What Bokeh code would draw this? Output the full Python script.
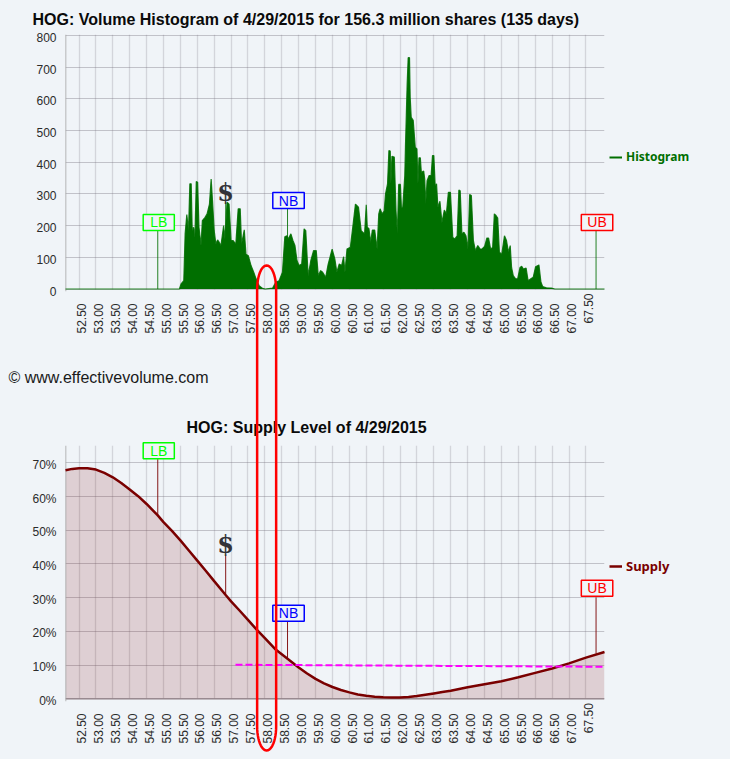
import math
from bokeh.plotting import figure
from bokeh.layouts import column
from bokeh.embed import file_html
from bokeh.resources import INLINE
from bokeh.models import (Range1d, LinearAxis, FixedTicker, Grid, Label, Legend, LegendItem,
                          PrintfTickFormatter, PolyAnnotation, Span, Title)

symbol = "HOG"
price_ticks = [52.5 + 0.5 * i for i in range(31)]
volume_ticks = [0, 100, 200, 300, 400, 500, 600, 700, 800]
supply_ticks = [0, 10, 20, 30, 40, 50, 60, 70]

hist_price = [52.10, 55.47, 55.52, 55.60, 55.64, 55.69, 55.74, 55.78, 55.82, 55.85, 55.89, 55.93, 55.97, 56.01, 56.05,
              56.11, 56.15, 56.23, 56.29, 56.36, 56.41, 56.45, 56.50, 56.55, 56.60, 56.65, 56.70, 56.78, 56.82, 56.88,
              56.94, 57.00, 57.06, 57.14, 57.21, 57.27, 57.31, 57.39, 57.44, 57.51, 57.59, 57.67, 57.74, 57.83, 57.93,
              58.01, 58.23, 58.32, 58.42, 58.52, 58.59, 58.65, 58.69, 58.77, 58.83, 58.89, 58.95, 59.01, 59.09, 59.16,
              59.21, 59.28, 59.36, 59.44, 59.52, 59.58, 59.65, 59.71, 59.80, 59.87, 59.99, 60.07, 60.13, 60.20, 60.27,
              60.33, 60.37, 60.43, 60.53, 60.60, 60.68, 60.77, 60.85, 60.95, 61.00, 61.03, 61.08, 61.13, 61.18, 61.25,
              61.32, 61.37, 61.41, 61.47, 61.53, 61.57, 61.63, 61.67, 61.71, 61.73, 61.76, 61.83, 61.88, 61.92, 61.96,
              62.01, 62.04, 62.08, 62.14, 62.16, 62.21, 62.24, 62.28, 62.30, 62.33, 62.39, 62.45, 62.50, 62.53, 62.56,
              62.60, 62.63, 62.70, 62.73, 62.76, 62.80, 62.86, 62.92, 62.96, 63.00, 63.04, 63.08, 63.12, 63.18, 63.24,
              63.31, 63.37, 63.43, 63.49, 63.56, 63.62, 63.69, 63.74, 63.78, 63.83, 63.89, 63.95, 64.01, 64.06, 64.11,
              64.17, 64.23, 64.30, 64.37, 64.42, 64.50, 64.57, 64.62, 64.68, 64.74, 64.79, 64.84, 64.89, 64.94, 65.01,
              65.09, 65.15, 65.21, 65.26, 65.30, 65.35, 65.42, 65.48, 65.55, 65.60, 65.65, 65.73, 65.79, 65.87, 65.94,
              66.01, 66.11, 66.17, 66.22, 66.33, 66.48, 66.58, 68.05]
hist_volume = [0, 0, 16, 26, 174, 235, 184, 332, 332, 184, 195, 163, 339, 337, 195,
               137, 216, 226, 237, 268, 347, 279, 184, 142, 155, 147, 137, 200, 158, 274,
               268, 153, 153, 142, 253, 253, 142, 187, 110, 105, 74, 53, 32, 10, 2,
               0, 3, 21, 26, 53, 165, 168, 158, 174, 153, 137, 90, 74, 79, 190,
               184, 42, 90, 121, 121, 42, 58, 53, 37, 77, 126, 95, 53, 79, 74,
               102, 53, 126, 132, 195, 268, 258, 184, 174, 266, 195, 190, 147, 186, 186,
               126, 237, 253, 237, 246, 300, 332, 437, 435, 332, 419, 416, 247, 174, 330,
               330, 258, 258, 358, 450, 647, 730, 730, 605, 542, 532, 447, 442, 332, 414,
               414, 368, 372, 347, 268, 342, 358, 358, 421, 421, 326, 332, 258, 277, 210,
               249, 237, 305, 305, 163, 158, 168, 312, 310, 174, 179, 168, 126, 298, 295,
               153, 121, 137, 126, 126, 134, 161, 161, 126, 131, 237, 232, 224, 116, 110,
               168, 153, 116, 137, 68, 42, 32, 32, 68, 72, 63, 66, 26, 32, 37,
               70, 76, 21, 8, 4, 3, 0, 0]

supply_price = [52.10, 52.30, 52.50, 52.75, 53.00, 53.25, 53.50, 53.75, 54.00, 54.25, 54.50, 54.83, 55.00, 55.25,
                55.50, 55.75, 56.00, 56.25, 56.50, 56.84, 57.00, 57.25, 57.50, 57.75, 58.00, 58.30, 58.67, 59.00,
                59.25, 59.50, 59.75, 60.00, 60.25, 60.50, 60.75, 61.00, 61.25, 61.50, 61.75, 62.00, 62.25, 62.50,
                62.75, 63.00, 63.25, 63.50, 64.00, 64.50, 65.00, 65.50, 66.00, 66.50, 67.00, 67.50, 68.05]
supply_level = [67.8, 68.2, 68.4, 68.4, 68.0, 67.0, 65.7, 64.0, 62.1, 60.1, 57.8, 54.4, 52.4, 49.8,
                47.0, 44.0, 41.0, 38.0, 34.9, 30.8, 28.9, 26.2, 23.4, 20.6, 18.0, 14.8, 11.9, 9.3,
                7.5, 5.9, 4.6, 3.5, 2.6, 1.9, 1.3, 0.9, 0.6, 0.45, 0.35, 0.4, 0.55, 0.8,
                1.2, 1.6, 2.0, 2.4, 3.4, 4.3, 5.2, 6.4, 7.7, 9.0, 10.5, 12.2, 13.9]
threshold_price = [57.13, 68.05]
threshold_level = [10.1, 9.5]

marker_price = {"LB": 54.83, "$": 56.84, "NB": 58.67, "UB": 67.80}
hist_stem_top = {"LB": 184, "$": 273, "NB": 254, "UB": 184}
supply_stem_top = {"LB": 71.1, "$": 42.8, "NB": 22.8, "UB": 30.1}
supply_stem_bottom = {"LB": 54.4, "$": 30.8, "NB": 11.9, "UB": 13.4}

BG = "#f0f4f8"
INK = "#2b2b2b"
GREEN = "#006f00"
MAROON = "#7a0000"
X0, X1 = 52.10, 68.05
PPU = 539 / (X1 - X0)
ppu1 = 253.5 / 800
ppu2 = 3.371


def make_fig(h, top, bottom, y0, y1, title, title_offset, standoff):
    p = figure(width=730, height=h, x_range=Range1d(X0, X1), y_range=Range1d(y0, y1),
               x_axis_location=None, y_axis_location=None, toolbar_location=None,
               output_backend="svg", min_border_left=65, min_border_right=126,
               min_border_top=top, min_border_bottom=bottom,
               background_fill_color=BG, border_fill_color=BG, outline_line_color=None)
    p.center = []
    p.title = Title(text=title, align="left", offset=title_offset, standoff=standoff,
                    text_font="Liberation Sans", text_font_size="16px", text_font_style="bold",
                    text_color="#0a0a0a")
    return p


def dress(p, yticks, yfmt, ppu_y, stand_x):
    shift_x = 2.7 / PPU
    shift_y = 2.0 / ppu_y
    p.extra_x_ranges["lab"] = Range1d(X0 - shift_x, X1 - shift_x)
    p.extra_y_ranges["lab"] = Range1d(p.y_range.start + shift_y, p.y_range.end + shift_y)
    xa = LinearAxis(x_range_name="lab", ticker=FixedTicker(ticks=price_ticks[:-1]),
                    formatter=PrintfTickFormatter(format="%.2f"),
                    major_label_orientation=math.pi / 2, major_label_standoff=stand_x)
    ya = LinearAxis(y_range_name="lab", ticker=FixedTicker(ticks=yticks),
                    formatter=PrintfTickFormatter(format=yfmt), major_label_standoff=3)
    for a in (xa, ya):
        a.axis_line_color = None
        a.major_tick_line_color = None
        a.minor_tick_line_color = None
        a.major_label_text_font = "Liberation Sans"
        a.major_label_text_font_size = "12px"
        a.major_label_text_color = INK
    p.add_layout(xa, "below")
    p.add_layout(ya, "left")
    gx = Grid(dimension=0, ticker=FixedTicker(ticks=price_ticks),
              grid_line_color="#6f6a78", grid_line_alpha=0.22, grid_line_width=1.3)
    gy = Grid(dimension=1, ticker=FixedTicker(ticks=yticks),
              grid_line_color="#6f6a78", grid_line_alpha=0.36, grid_line_width=1.1)
    if "cross_bounds" in Grid.properties():
        gx.cross_bounds = (0, p.y_range.end)
    p.add_layout(gx)
    p.add_layout(gy)
    p.add_layout(Span(location=X0, dimension="height", line_color="#a0a0a0", line_width=1.5))


# ---------- volume histogram ----------
p1 = make_fig(395, 34, 104, -2.5 / ppu1, 800 + 1 / ppu1,
              f"{symbol}: Volume Histogram of 4/29/2015 for 156.3 million shares (135 days)", -33, 14)
dress(p1, volume_ticks, "%d", ppu1, 6)
p1.segment([marker_price[k] for k in hist_stem_top], [0] * 4,
           [marker_price[k] for k in hist_stem_top], list(hist_stem_top.values()),
           line_color=GREEN, line_width=1, line_alpha=0.85)
p1.varea(hist_price, [0] * len(hist_price), hist_volume, fill_color=GREEN)

# ---------- supply level ----------
p2 = make_fig(364, 50, 58, -2.7 / ppu2, (698.3 - 445) / ppu2,
              f"{symbol}: Supply Level of 4/29/2015", 121, 20)
dress(p2, supply_ticks, "%d%%", ppu2, 6)
p2.varea(supply_price, [0] * len(supply_price), supply_level, fill_color=MAROON, fill_alpha=0.15)
p2.segment([X0], [0], [X1], [0], line_color="#8f7f84", line_width=1.2)
p2.segment([marker_price[k] for k in supply_stem_top], list(supply_stem_bottom.values()),
           [marker_price[k] for k in supply_stem_top], list(supply_stem_top.values()),
           line_color=MAROON, line_width=1, line_alpha=0.9)

# ---------- transparent layer over both panels, sharing their scales ----------
ov = figure(width=730, height=759, x_range=Range1d(X0 - 65 / PPU, X0 + 665 / PPU),
            y_range=Range1d((288.5 - 759) / ppu1, 288.5 / ppu1),
            x_axis_location=None, y_axis_location=None, toolbar_location=None, output_backend="svg",
            min_border=0, background_fill_color=None, border_fill_color=None, outline_line_color=None,
            styles={"position": "absolute", "top": "0px", "left": "0px"})
ov.center = []
ov.extra_y_ranges["sup"] = Range1d((698.3 - 759) / ppu2, 698.3 / ppu2)

ov.line(hist_price, hist_volume, line_color=GREEN, line_width=1.2, line_alpha=0.85)
key1 = ov.line(hist_price[:1], hist_volume[:1], line_color=GREEN, line_width=2)
r2 = ov.line(supply_price, supply_level, line_color=MAROON, line_width=2.5, y_range_name="sup")
ov.line(threshold_price, threshold_level, line_color="#ff00ff", line_width=2, line_dash="7 3", y_range_name="sup")


def tag(name, y, color, rng="default"):
    pad = (7, 0) if name == "LB" else (6, 0)
    ov.add_layout(Label(x=marker_price[name], y=y, y_range_name=rng, text=name, x_offset=1, text_align="center",
                        text_baseline="middle", text_font="Liberation Sans", text_font_size="14px",
                        text_color=color, border_line_color=color, border_line_width=1.5,
                        background_fill_color=BG, padding=pad))


def dollar(y, rng="default"):
    ov.add_layout(Label(x=marker_price["$"], y=y, y_range_name=rng, text="$", text_align="center",
                        text_baseline="middle", text_font="DejaVu Serif", text_font_style="bold",
                        text_font_size="24px", text_color="#333338"))


def last_tick(y, rng="default"):
    ov.add_layout(Label(x=67.5, y=y, y_range_name=rng, text="67.50", angle=math.pi / 2, x_offset=2.7,
                        text_align="right", text_baseline="middle", text_font="Liberation Sans",
                        text_font_size="12px", text_color=INK))


def legend(r, name, color, y, size):
    ov.add_layout(Legend(items=[LegendItem(label=name, renderers=[r])], location=(609, y), margin=0, padding=0,
                         border_line_color=None, background_fill_alpha=0, glyph_width=13, glyph_height=12,
                         label_standoff=4, label_text_font="Noto Sans", label_text_font_size=size,
                         label_text_font_style="bold", label_text_color=color, label_height=12))


tag("LB", 210, "#00ff00")
tag("NB", 279, "#0000ff")
tag("UB", 210, "#ff0000")
dollar(304)
last_tick(-14.2)
legend(key1, "Histogram", GREEN, 594, "12px")

tag("LB", 73.6, "#00ff00", "sup")
tag("NB", 25.4, "#0000ff", "sup")
tag("UB", 32.8, "#ff0000", "sup")
dollar(45.8, "sup")
last_tick(-1.3, "sup")
legend(r2, "Supply", MAROON, 184, "13px")

ov.add_layout(Label(x=X0 + (8 - 65) / PPU, y=(288.5 - 377) / ppu1, text="© www.effectivevolume.com",
                    text_baseline="middle", text_font="Liberation Sans", text_font_size="16px",
                    text_color="#1a1a1a"))

cx, hw, top, bottom, cap = 266.0, 9.5, 265.0, 750.0, 24.0
oval_x, oval_y = [], []
for i in range(25):
    a = math.pi * i / 24
    oval_x.append(cx - hw * math.cos(a))
    oval_y.append(top + cap - cap * math.sin(a))
for i in range(25):
    a = math.pi * i / 24
    oval_x.append(cx + hw * math.cos(a))
    oval_y.append(bottom - cap + cap * math.sin(a))
ov.add_layout(PolyAnnotation(xs=[52.5 + (x - 78.5) / 33.77 for x in oval_x],
                             ys=[(288.5 - y) / ppu1 for y in oval_y],
                             xs_units="data", ys_units="data", fill_color=None, fill_alpha=0,
                             line_color="#ff0000", line_width=2.5, line_alpha=1))

page = column(p1, p2, spacing=0)
html = file_html([page, ov], INLINE)
html = html.replace("</head>", f"<style>html,body{{background:{BG};}}</style></head>", 1)
open("out.html", "w").write(html)
